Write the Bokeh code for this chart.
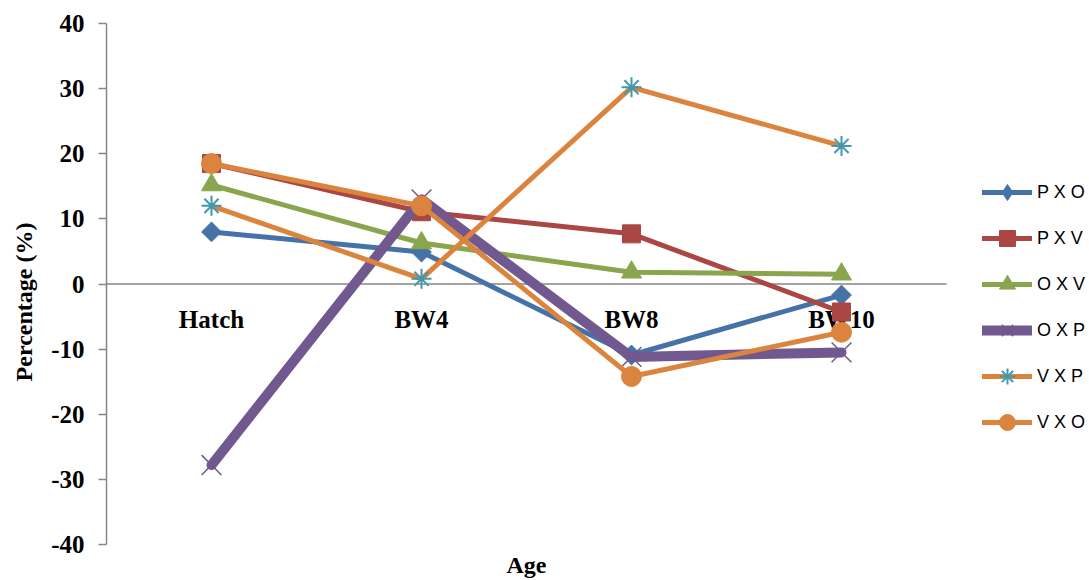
import math
from bokeh.plotting import figure
from bokeh.models import (Range1d, Legend, LegendItem, FixedTicker,
                          PrintfTickFormatter, Label)
from bokeh.embed import file_html
from bokeh.resources import INLINE

# ---- data ----
categories = ["Hatch", "BW4", "BW8", "BW10"]
series_names = ["P X O", "P X V", "O X V", "O X P", "V X P", "V X O"]
p_x_o = [8.0, 4.9, -10.9, -1.7]
p_x_v = [18.5, 11.1, 7.7, -4.3]
o_x_v = [15.2, 6.3, 1.8, 1.5]
o_x_p = [-27.8, 13.0, -11.2, -10.5]
v_x_p = [12.0, 0.8, 30.2, 21.2]
v_x_o = [18.5, 12.0, -14.2, -7.4]
y_ticks = [-40, -30, -20, -10, 0, 10, 20, 30, 40]

series_values = [p_x_o, p_x_v, o_x_v, o_x_p, v_x_p, v_x_o]
x_pos = list(range(len(categories)))  # category slots on the x scale

# ---- styles ----
styles = [
    dict(line="#4572A7", marker="square", angle=math.pi / 4, legend_marker="diamond",
         mcolor="#4572A7", lw=5, size=14, mlw=1),
    dict(line="#AA4643", marker="square", angle=0, legend_marker=None,
         mcolor="#AA4643", lw=5, size=18, mlw=1),
    dict(line="#89A54E", marker="triangle", angle=0, legend_marker=None,
         mcolor="#89A54E", lw=5, size=20, mlw=1),
    dict(line="#71588F", marker="x", angle=0, legend_marker=None,
         mcolor="#71588F", lw=10, size=28, mlw=1.5),
    dict(line="#DB843D", marker="asterisk", angle=0, legend_marker=None,
         mcolor="#4198AF", lw=5, size=20, mlw=2),
    dict(line="#DB843D", marker="circle", angle=0, legend_marker=None,
         mcolor="#DB843D", lw=5, size=20, mlw=1),
]

W, H = 1089, 580
LEFT, TOP = 106, 23
SLOT_PX = 210.0            # pixel width of one category slot
Y_PX = 521.0 / 80.0        # pixels per percentage unit
frame_w = W - LEFT
frame_h = H - TOP

x_start = x_pos[0] - 0.5
y_top = y_ticks[-1]
y_start = y_top - frame_h / Y_PX

p = figure(
    x_range=Range1d(x_start, x_start + frame_w / SLOT_PX),
    y_range=Range1d(y_start, y_top),
    width=W, height=H,
    min_border_left=LEFT, min_border_top=TOP, min_border_right=0, min_border_bottom=0,
    output_backend="svg", toolbar_location=None,
)
p.background_fill_color = "white"
p.border_fill_color = "white"
p.outline_line_color = None
p.xgrid.visible = False
p.ygrid.visible = False
p.xaxis.visible = False

axis_grey = "#868686"

# y axis
yax = p.yaxis[0]
yax.bounds = (y_ticks[0], y_ticks[-1])
yax.ticker = FixedTicker(ticks=y_ticks)
yax.formatter = PrintfTickFormatter(format="%d")
yax.minor_tick_line_color = None
yax.major_tick_in = 0
yax.major_tick_out = 8
yax.major_tick_line_color = axis_grey
yax.major_tick_line_width = 1.5
yax.axis_line_color = axis_grey
yax.axis_line_width = 1.5
yax.major_label_text_font = "Liberation Serif"
yax.major_label_text_font_style = "bold"
yax.major_label_text_font_size = "25px"
yax.major_label_text_color = "black"
yax.major_label_standoff = 14
yax.axis_label = "Percentage (%)"
yax.axis_label_text_font = "Liberation Serif"
yax.axis_label_text_font_style = "bold"
yax.axis_label_text_font_size = "24px"
yax.axis_label_text_color = "black"
yax.axis_label_standoff = 11

# horizontal category axis line at y = 0
p.segment(x0=[x_pos[0] - 0.5], y0=[0], x1=[x_pos[-1] + 0.5], y1=[0],
          line_color=axis_grey, line_width=1.5)

# category labels sitting under the zero line
p.text(x=x_pos, y=[0] * len(categories), text=categories,
       text_align="center", text_baseline="alphabetic", y_offset=35,
       text_font="Liberation Serif", text_font_style="bold",
       text_font_size="25px", text_color="black")

items = []
for name, vals, st in zip(series_names, series_values, styles):
    lr = p.line(x_pos, vals, line_color=st["line"], line_width=st["lw"],
                line_join="round", line_cap="round")
    sr = p.scatter(x_pos, vals, marker=st["marker"], size=st["size"], angle=st["angle"],
                   fill_color=st["mcolor"], line_color=st["mcolor"], line_width=st["mlw"])
    if st["legend_marker"]:
        # marker used only for the legend swatch (no visible point)
        lm = p.scatter([x_pos[0]], [float("nan")], marker=st["legend_marker"], size=st["size"],
                       fill_color=st["mcolor"], line_color=st["mcolor"], line_width=st["mlw"])
        items.append(LegendItem(label=name, renderers=[lr, lm]))
    else:
        items.append(LegendItem(label=name, renderers=[lr, sr]))

legend = Legend(items=items, location=(876, 138), orientation="vertical",
                glyph_width=50, glyph_height=40, label_height=40, spacing=6,
                padding=0, margin=0, label_standoff=5,
                label_text_font="Liberation Sans", label_text_font_size="18px",
                label_text_color="black", border_line_color=None,
                background_fill_alpha=0)
p.add_layout(legend, "center")

age = Label(x=(x_pos[0] + x_pos[-1]) / 2, y=y_ticks[0], y_offset=-20, text="Age",
            text_align="center", text_baseline="alphabetic", text_font="Liberation Serif",
            text_font_style="bold", text_font_size="24px", text_color="black")
p.add_layout(age)

open("out.html", "w").write(file_html(p, INLINE))
